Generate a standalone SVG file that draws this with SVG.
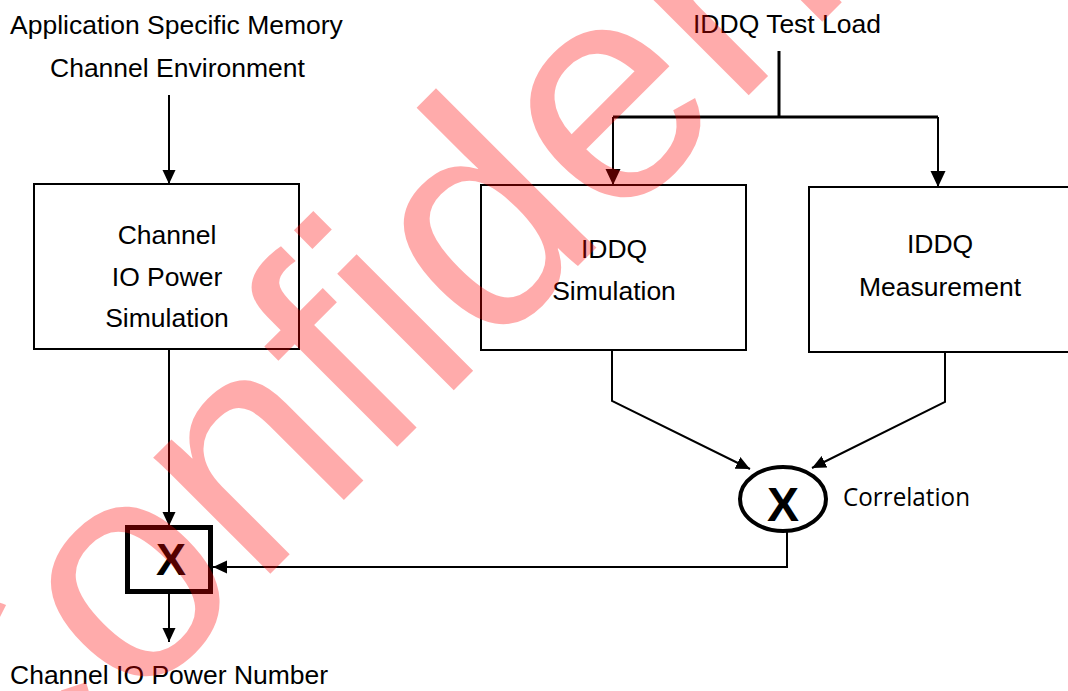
<svg xmlns="http://www.w3.org/2000/svg" width="1068" height="691" viewBox="0 0 1068 691">
<defs>
<style>
.t{font-family:"Liberation Sans",Arial,sans-serif;font-size:26.5px;fill:#000}
.c{text-anchor:middle}
.box{fill:#fff;stroke:#000;stroke-width:2}
.ln{fill:none;stroke:#000;stroke-width:2}
.ln3{fill:none;stroke:#000;stroke-width:3}
.bx{font-family:"Liberation Sans",Arial,sans-serif;font-weight:bold;text-anchor:middle;fill:#000}
.lbl{font-family:"Open Sans","Noto Sans",sans-serif;font-size:25px;fill:#000}
.wm{font-family:"Liberation Sans",Arial,sans-serif;font-size:312px;fill:#ff0000;fill-opacity:0.33}
</style>
<marker id="ah" markerUnits="userSpaceOnUse" markerWidth="14" markerHeight="14" viewBox="0 0 14 14" refX="14" refY="7" orient="auto"><path d="M0,0.5 L14,7 L0,13.5 z" fill="#000"/></marker>
<marker id="ah2" markerUnits="userSpaceOnUse" markerWidth="16" markerHeight="16" viewBox="0 0 16 16" refX="16" refY="8" orient="auto"><path d="M0,0.5 L16,8 L0,15.5 z" fill="#000"/></marker>
</defs>
<rect width="1068" height="691" fill="#fff"/>

<g id="connectors">
<path class="ln" d="M169,95 V184" marker-end="url(#ah)"/>
<path class="ln" d="M169,349 V526" marker-end="url(#ah)"/>
<path class="ln" d="M169,594 V642" marker-end="url(#ah)"/>
<path class="ln" d="M787,531 V567 H213" marker-end="url(#ah)"/>
<path class="ln3" d="M779,51 V117"/>
<path class="ln3" d="M613,117 H938"/>
<path class="ln" d="M613,117 V185" marker-end="url(#ah2)"/>
<path class="ln" d="M938,117 V187" marker-end="url(#ah2)"/>
<path class="ln" d="M612,350 V401 L750,469" marker-end="url(#ah)"/>
<path class="ln" d="M945,352 V402 L812,468" marker-end="url(#ah)"/>
</g>

<g id="env">
<text class="t" x="10" y="34">Application Specific Memory</text>
<text class="t" x="50" y="77">Channel Environment</text>
</g>

<g id="io-sim">
<rect class="box" x="34" y="184" width="265" height="165"/>
<text class="t c" x="167" y="244">Channel</text>
<text class="t c" x="167" y="286">IO Power</text>
<text class="t c" x="167" y="327">Simulation</text>
</g>

<g id="iddq-load">
<text class="t" x="693" y="33">IDDQ Test Load</text>
</g>

<g id="iddq-sim">
<rect class="box" x="481" y="185" width="265" height="165"/>
<text class="t c" x="614" y="258">IDDQ</text>
<text class="t c" x="614" y="300">Simulation</text>
</g>

<g id="iddq-meas">
<rect class="box" x="809" y="187" width="270" height="165"/>
<text class="t c" x="940" y="253">IDDQ</text>
<text class="t c" x="940" y="296">Measurement</text>
</g>

<g id="multiply">
<rect x="127.5" y="527.5" width="83" height="64" fill="#fff" stroke="#000" stroke-width="5"/>
<text class="bx" x="171" y="575" font-size="45">X</text>
</g>

<g id="correlation">
<ellipse cx="783" cy="499" rx="43" ry="32" fill="#fff" stroke="#000" stroke-width="4"/>
<text class="bx" x="783" y="521" font-size="48">X</text>
<text class="lbl" x="843" y="506" textLength="127" lengthAdjust="spacingAndGlyphs">Correlation</text>
</g>

<g id="output">
<text class="t" x="10" y="684">Channel IO Power Number</text>
</g>

<text class="wm" transform="translate(-27,871) rotate(-45)">Confidential</text>
</svg>
